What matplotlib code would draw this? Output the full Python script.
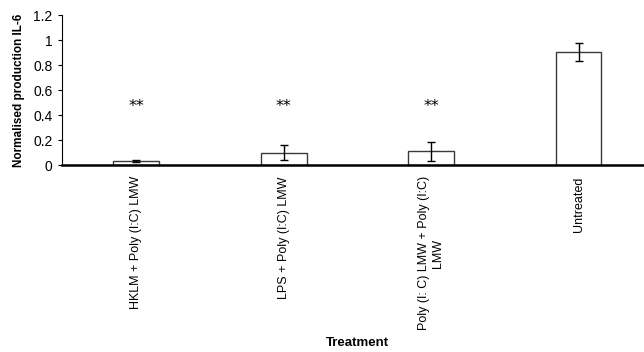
import matplotlib
matplotlib.use("Agg")
import matplotlib.pyplot as plt
import numpy as np

plt.rcParams['font.family'] = ['Liberation Sans', 'DejaVu Sans']

treatments = ['HKLM + Poly (I:C) LMW', 'LPS + Poly (I:C) LMW',
              'Poly (I: C) LMW + Poly (I:C)\nLMW', 'Untreated']
il6 = [0.035, 0.10, 0.11, 0.905]
il6_err = [0.008, 0.06, 0.075, 0.07]
stars = ['**', '**', '**', '']
star_y = 0.465

fig = plt.figure(figsize=(6.44, 3.52), dpi=100)
# axes run slightly past the right edge of the figure
ax = fig.add_axes([0.097, 0.531, 0.916, 0.426])

x = np.arange(len(treatments))
ax.bar(x, il6, width=0.31, color='white', edgecolor='#3a3a3a', linewidth=1.0,
       yerr=il6_err, capsize=2.6, error_kw=dict(elinewidth=1.0, capthick=1.0, ecolor='black'))

for xi, s in zip(x, stars):
    if s:
        ax.text(xi, star_y, s, ha='center', va='center', fontsize=11.5,
                family='DejaVu Sans')

ax.set_xlim(-0.5, len(treatments) - 0.5)
ax.set_ylim(0, 1.2)
ax.set_yticks(np.arange(0, 1.21, 0.2))
ax.set_yticklabels(['0', '0.2', '0.4', '0.6', '0.8', '1', '1.2'], fontsize=10)
ax.set_xticks(x)
ax.set_xticklabels(treatments, rotation=90, va='top', ha='center',
                   fontsize=9, multialignment='center')
ax.tick_params(axis='x', length=0, pad=8)
ax.tick_params(axis='y', length=3, width=0.8, direction='out', pad=4)

ax.spines[['top', 'right']].set_visible(False)
ax.spines['bottom'].set_linewidth(1.8)
ax.spines['left'].set_linewidth(0.8)

ax.set_ylabel('Normalised production IL-6', fontsize=8.5, fontweight='bold', labelpad=6)
fig.text(0.555, 0.025, 'Treatment', ha='center', va='center', fontsize=9.5, fontweight='bold')

fig.savefig('out.png', dpi=100)
